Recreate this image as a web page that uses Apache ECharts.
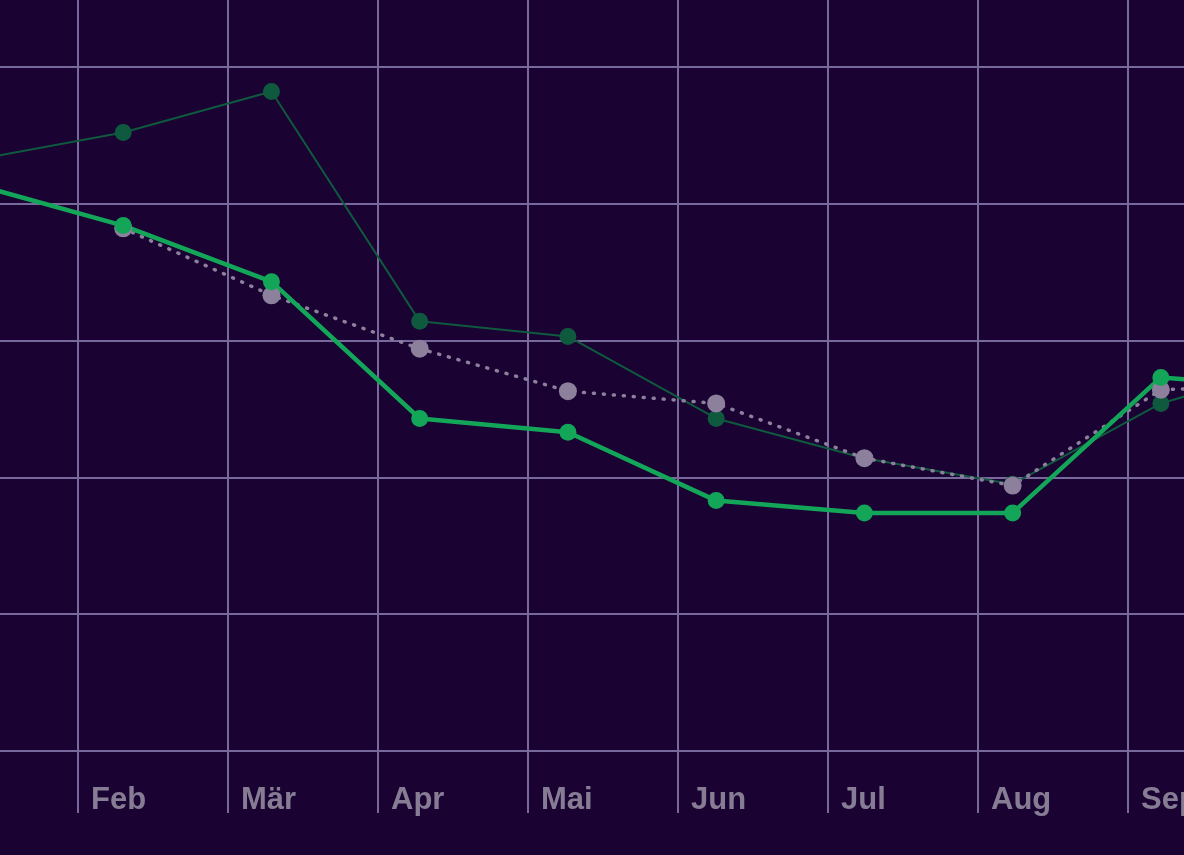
<!DOCTYPE html>
<html>
<head>
<meta charset="utf-8">
<script src="https://cdn.jsdelivr.net/npm/echarts@6/dist/echarts.min.js"></script>
<style>
  html, body { margin: 0; padding: 0; background: #1a0233; }
  #chart { width: 1184px; height: 855px; }
</style>
</head>
<body>
<div id="chart"></div>
<script>
const months = ['Jan', 'Feb', 'Mär', 'Apr', 'Mai', 'Jun', 'Jul', 'Aug', 'Sep', 'Okt', 'Nov', 'Dez']

// Werte je Monat (Jan..Okt)
const hellGruen = [41.4, 38.4, 34.3, 24.3, 23.3, 18.3, 17.4, 17.4, 27.3, 26.4]
const dunkelGruen = [43.2, 45.2, 48.2, 31.4, 30.3, 24.3, 21.4, 19.5, 25.4, 28.6]
const grau = [null, 38.2, 33.3, 29.4, 26.3, 25.4, 21.4, 19.4, 26.4, 26.8]

const gridColor = '#78699c'

function toPairs(arr) {
  return arr.map((v, i) => [i, v])
}

const chart = echarts.init(document.getElementById('chart'))

chart.setOption({
  backgroundColor: '#1a0233',
  animation: false,
  grid: { left: -72, width: 1650, top: -70, height: 821, containLabel: false, outerBoundsMode: 'none' },
  xAxis: [
    {
      type: 'category',
      data: months,
      boundaryGap: false,
      axisLine: { show: false },
      axisTick: { show: true, interval: 0, length: 62, lineStyle: { color: gridColor, width: 2 } },
      axisLabel: {
        interval: 0,
        align: 'left',
        margin: 34,
        padding: [0, 0, 0, 13],
        color: '#867d94',
        fontFamily: 'Liberation Sans',
        fontWeight: 'bold',
        fontSize: 31
      },
      splitLine: { show: true, interval: 0, lineStyle: { color: gridColor, width: 2 } }
    },
    {
      type: 'value',
      show: false,
      min: -0.317,
      max: 10.814,
      splitLine: { show: false }
    }
  ],
  yAxis: {
    type: 'value',
    min: 0,
    max: 60,
    interval: 10,
    axisLine: { show: false },
    axisTick: { show: false },
    axisLabel: { show: false },
    splitLine: { lineStyle: { color: gridColor, width: 2 } }
  },
  series: [
    {
      type: 'line',
      xAxisIndex: 1,
      data: toPairs(dunkelGruen),
      symbol: 'circle',
      symbolSize: 17,
      lineStyle: { color: '#0f5a3e', width: 2 },
      itemStyle: { color: '#0f5a3e' }
    },
    {
      type: 'line',
      xAxisIndex: 1,
      data: toPairs(grau),
      symbol: 'circle',
      symbolSize: 18,
      lineStyle: { color: '#8c809c', width: 3.5, type: [1, 9], cap: 'round' },
      itemStyle: { color: '#8c809c' }
    },
    {
      type: 'line',
      xAxisIndex: 1,
      data: toPairs(hellGruen),
      symbol: 'circle',
      symbolSize: 17,
      lineStyle: { color: '#13a658', width: 4.5 },
      itemStyle: { color: '#13a658' }
    }
  ]
})
</script>
</body>
</html>
